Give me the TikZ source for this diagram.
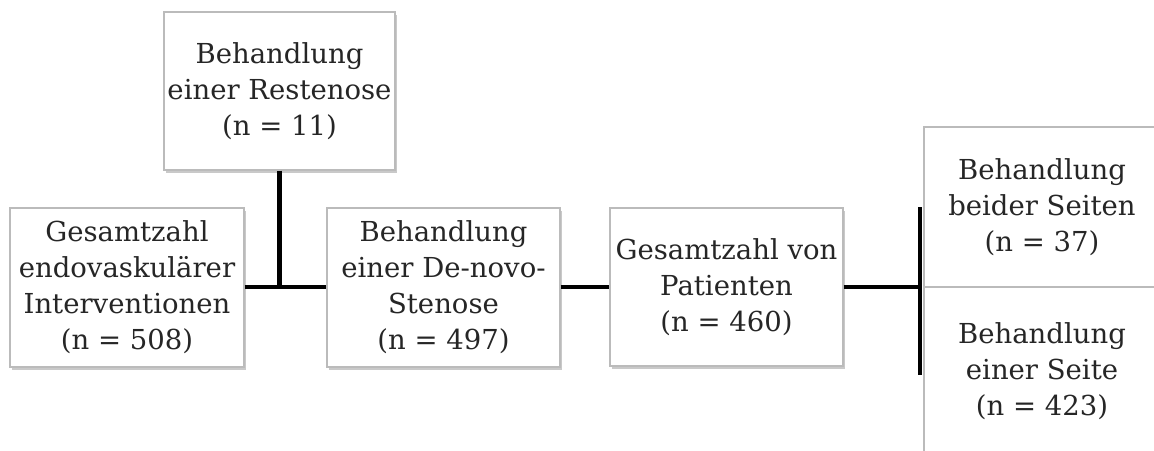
\documentclass[tikz,border=0pt]{standalone}
\usepackage{fontspec}
\setmainfont{DejaVu Serif}
\usetikzlibrary{shadows}
\definecolor{txt}{HTML}{262626}
\definecolor{boxline}{HTML}{BBBBBB}
\tikzset{
  box/.style={draw=boxline, line width=1.2pt, fill=white, text=txt,
    align=center, inner sep=0pt, font=\fontsize{27.5}{36}\selectfont,
    drop shadow={shadow xshift=1.5pt, shadow yshift=-2.5pt, fill=black!35, opacity=0.6}},
  conn/.style={draw=black, line width=4.3pt}
}
\begin{document}
\begin{tikzpicture}[x=1pt,y=-1pt]
\clip (0,0) rectangle (1154,450);
\fill[white] (0,0) rectangle (1154,450);
\node[box, minimum width=231pt, minimum height=158pt] (top) at (279.5,91) {Behandlung\\einer Restenose\\(n = 11)};
\node[box, minimum width=234pt, minimum height=159pt] (left) at (127,287.5) {Gesamtzahl\\endovaskulärer\\Interventionen\\(n = 508)};
\node[box, minimum width=233pt, minimum height=159pt] (mid) at (443.5,287.5) {Behandlung\\einer De-novo-\\Stenose\\(n = 497)};
\node[box, minimum width=233pt, minimum height=158pt] (pat) at (726.5,287) {Gesamtzahl von\\Patienten\\(n = 460)};
\node[box, minimum width=236pt, minimum height=160pt] (both) at (1042,207) {Behandlung\\beider Seiten\\(n = 37)};
\node[box, minimum width=236pt, minimum height=168pt] (one) at (1042,371) {Behandlung\\einer Seite\\(n = 423)};
\draw[conn] (left.east |- 0,287) -- (mid.west |- 0,287);
\draw[conn] (top.south) -- (top.south |- 0,287);
\draw[conn] (mid.east |- 0,287) -- (pat.west |- 0,287);
\coordinate (j) at (920,287);
\coordinate (jt) at (920,207);
\coordinate (jb) at (920,375);
\draw[conn] (pat.east |- j) -- (j);
\draw[conn] (jt) -- (jb);
\end{tikzpicture}
\end{document}
